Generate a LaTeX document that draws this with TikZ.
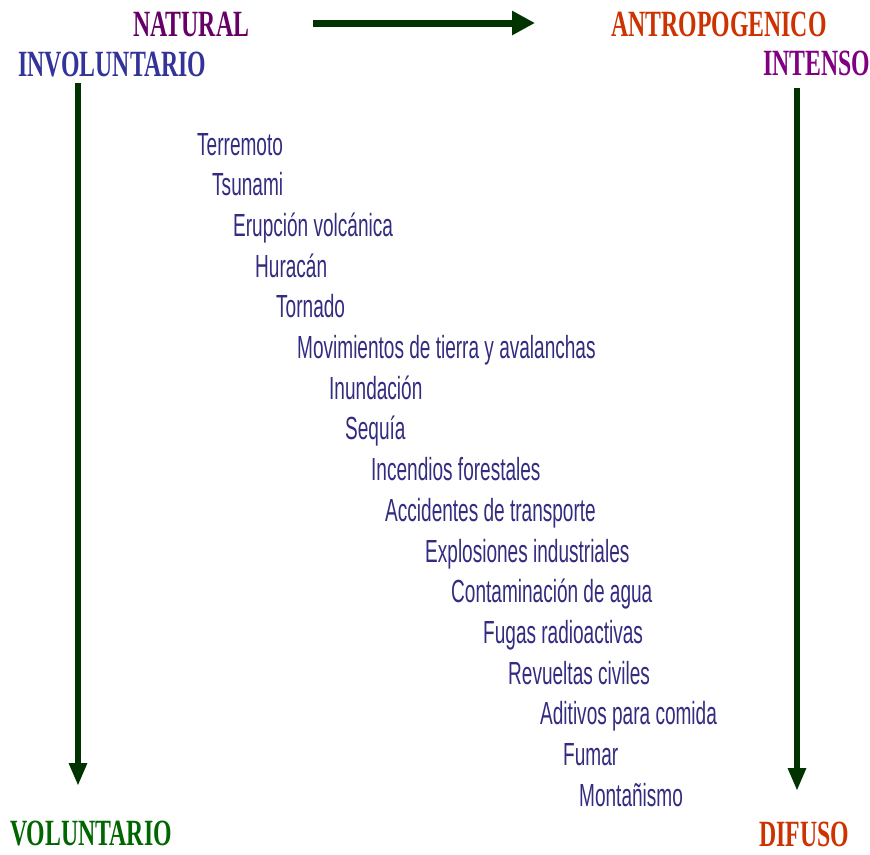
\documentclass[tikz,border=0pt]{standalone}
\usepackage{fontspec}
\usetikzlibrary{arrows.meta}
\newfontfamily\headfont[FakeStretch=0.643]{Liberation Serif}
\newfontfamily\listfont[FakeStretch=0.595]{Liberation Sans}
\definecolor{arrowgreen}{HTML}{003300}
\definecolor{natcol}{HTML}{660066}
\definecolor{invcol}{HTML}{333399}
\definecolor{antcol}{HTML}{CC3300}
\definecolor{intcol}{HTML}{800080}
\definecolor{volcol}{HTML}{006600}
\definecolor{itemcol}{HTML}{332C80}
\tikzset{
  heading/.style={anchor=base west, inner sep=0pt, text depth=0pt, font=\headfont\bfseries\fontsize{37}{37}\selectfont},
  item/.style={anchor=base west, inner sep=0pt, text=itemcol, font=\listfont\fontsize{32}{32}\selectfont},
  bigarrow/.style={draw=arrowgreen, line width=7pt, -{Triangle[length=23pt,width=23pt]}, fill=arrowgreen},
  vertarrow/.style={draw=arrowgreen, line width=6pt, -{Triangle[length=23pt,width=17pt]}, fill=arrowgreen}
}
\begin{document}
\begin{tikzpicture}[x=1pt,y=-1pt]
\useasboundingbox (0,0) rectangle (870,854);
% headings
\node[heading, text=natcol] (natural) at (133,36) {NATURAL};
\node[heading, text=invcol] (invol) at (18,76) {INVOLUNTARIO};
\node[heading, text=antcol] (antro) at (611,36) {ANTROPOGENICO};
\node[heading, text=intcol] (intenso) at (763,75) {INTENSO};
\node[heading, text=volcol] (volun) at (10,845) {VOLUNTARIO};
\node[heading, text=antcol] (difuso) at (759,846) {DIFUSO};
% arrows
\coordinate (hA) at (313,23);
\coordinate (hB) at (535,23);
\coordinate (lA) at (78,83);
\coordinate (lB) at (78,786);
\coordinate (rA) at (797,88);
\coordinate (rB) at (797,791);
\draw[bigarrow] (hA) -- (hB);
\draw[vertarrow] (lA) -- (lB);
\draw[vertarrow] (rA) -- (rB);
% list
\node[item] (i1) at (197,155.0) {Terremoto};
\node[item] (i2) at (212,195.7) {Tsunami};
\node[item] (i3) at (233,236.4) {Erupción volcánica};
\node[item] (i4) at (255,277.1) {Huracán};
\node[item] (i5) at (276,317.8) {Tornado};
\node[item] (i6) at (297,358.5) {Movimientos de tierra y avalanchas};
\node[item] (i7) at (329,399.2) {Inundación};
\node[item] (i8) at (345,439.9) {Sequía};
\node[item] (i9) at (371,480.6) {Incendios forestales};
\node[item] (i10) at (385,521.3) {Accidentes de transporte};
\node[item] (i11) at (425,562.0) {Explosiones industriales};
\node[item] (i12) at (451,602.7) {Contaminación de agua};
\node[item] (i13) at (483,643.4) {Fugas radioactivas};
\node[item] (i14) at (508,684.1) {Revueltas civiles};
\node[item] (i15) at (540,724.8) {Aditivos para comida};
\node[item] (i16) at (563,765.5) {Fumar};
\node[item] (i17) at (579,806.2) {Montañismo};
\end{tikzpicture}
\end{document}
